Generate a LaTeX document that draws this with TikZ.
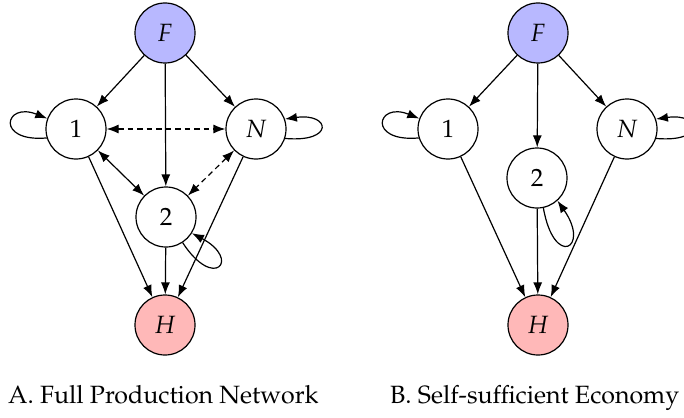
\documentclass[tikz,border=0pt]{standalone}
\usepackage[T1]{fontenc}
\usepackage{mathpazo}
\usetikzlibrary{arrows.meta}

\tikzset{
  sector/.style={circle, draw, line width=1.2pt, minimum size=60pt, inner sep=0pt,
                 font=\fontsize{25}{28}\selectfont},
  foreign/.style={sector, fill=blue!28},
  household/.style={sector, fill=red!28},
  flow/.style={line width=1.2pt, -{Latex[length=12pt,width=9pt]}},
  twoway/.style={line width=1.2pt, {Latex[length=12pt,width=9pt]}-{Latex[length=12pt,width=9pt]}},
  weak/.style={twoway, dash pattern=on 5.5pt off 4pt},
  caption/.style={anchor=base west, inner sep=0pt, font=\fontsize{25}{28}\selectfont}
}

\begin{document}
% y axis points down, so polar offsets below use mirrored angles
\begin{tikzpicture}[x=1pt, y=-1pt]
  \useasboundingbox (0,0) rectangle (684,417);

  % ---- Panel A: full production network ----
  \node[foreign]   (aF) at (165,33)  {$F$};
  \node[sector]    (a1) at (76,129)  {1};
  \node[sector]    (aN) at (256,129) {$N$};
  \node[sector]    (a2) at (166,217) {2};
  \node[household] (aH) at (165,325) {$H$};

  \draw[flow] (aF) -- (a1);
  \draw[flow] (aF) -- (aN);
  \draw[flow] (aF) -- (a2);
  \draw[weak] (a1) -- (aN);
  \draw[twoway] (a1) -- (a2);
  \draw[weak] (aN) -- (a2);
  \draw[flow] (a1) -- (aH);
  \draw[flow] (a2) -- (aH);
  \draw[flow] (aN) -- (aH);
  % self-loops
  \draw[flow] (a1.197) .. controls +(175:52) and +(-158:46) .. (a1.160);
  \draw[flow] (aN.-18) .. controls +(5:50) and +(-8:46) .. (aN.19);
  \draw[flow] (a2.-57) .. controls +(57:58) and +(28:56) .. (a2.-32);

  \node[caption] (capA) at (8,403) {A. Full Production Network};

  % ---- Panel B: self-sufficient economy ----
  \node[foreign]   (bF) at (538,33)  {$F$};
  \node[sector]    (b1) at (448,129) {1};
  \node[sector]    (bN) at (627,129) {$N$};
  \node[sector]    (b2) at (537,178) {2};
  \node[household] (bH) at (538,325) {$H$};

  \draw[flow] (bF) -- (b1);
  \draw[flow] (bF) -- (bN);
  \draw[flow] (bF) -- (b2);
  \draw[flow] (b1) -- (bH);
  \draw[flow] (b2) -- (bH);
  \draw[flow] (bN) -- (bH);
  % self-loops
  \draw[flow] (b1.197) .. controls +(175:52) and +(-158:46) .. (b1.160);
  \draw[flow] (bN.-18) .. controls +(5:50) and +(-8:46) .. (bN.19);
  \draw[flow] (b2.-78) .. controls +(80:62) and +(55:58) .. (b2.-48);

  \node[caption] (capB) at (390,403) {B. Self-sufficient Economy};
\end{tikzpicture}
\end{document}
